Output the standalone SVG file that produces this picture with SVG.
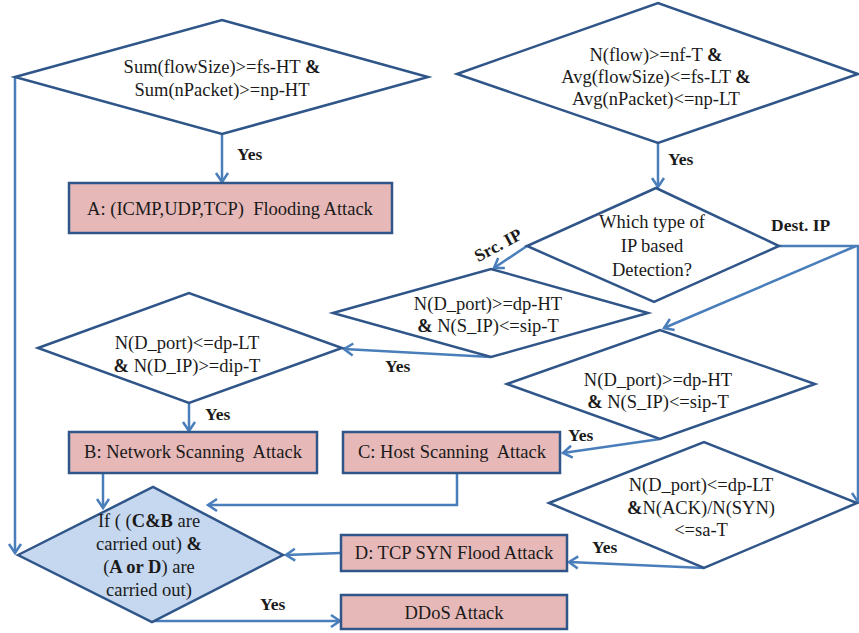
<svg xmlns="http://www.w3.org/2000/svg" width="859" height="633" viewBox="0 0 859 633">
<style>
.shape{fill:#ffffff;stroke:#2f5589;stroke-width:2.5;stroke-linejoin:miter}
.box{fill:#e6b9b8;stroke:#2f5589;stroke-width:2.5}
.blue{fill:#c5d8f0;stroke:#2f5589;stroke-width:2.5}
.t{font-family:"Liberation Serif","Times New Roman",serif;font-size:18.5px;fill:#1a1a1a;text-anchor:middle}
.lbl{font-family:"Liberation Serif","Times New Roman",serif;font-size:17.5px;font-weight:bold;fill:#1a1a1a}
.b{font-weight:bold}
.con{fill:none;stroke:#4a7ebb;stroke-width:2.5}
</style>
<defs>
<marker id="arr" markerUnits="userSpaceOnUse" markerWidth="16" markerHeight="16" refX="12" refY="8" orient="auto">
<path d="M3,2 L12,8 L3,14" fill="none" stroke="#4a7ebb" stroke-width="2.5"/>
</marker>
</defs>
<rect width="859" height="633" fill="#ffffff"/>
<g id="connectors">
<path class="con" d="M15,77 V553" marker-end="url(#arr)"/>
<path class="con" d="M222,134 V182" marker-end="url(#arr)"/>
<path class="con" d="M658,143 V187" marker-end="url(#arr)"/>
<path class="con" d="M527,246 L494,268" marker-end="url(#arr)"/>
<path class="con" d="M779,246 H858 V502" marker-end="url(#arr)"/>
<path class="con" d="M856,246 L664,328" marker-end="url(#arr)"/>
<path class="con" d="M491,357 L344,349" marker-end="url(#arr)"/>
<path class="con" d="M189,403 V431" marker-end="url(#arr)"/>
<path class="con" d="M660,439 L563,453" marker-end="url(#arr)"/>
<path class="con" d="M704,568 L569,562" marker-end="url(#arr)"/>
<path class="con" d="M103,473 V508" marker-end="url(#arr)"/>
<path class="con" d="M457,473 V505 H208" marker-end="url(#arr)"/>
<path class="con" d="M341,553 L286,555" marker-end="url(#arr)"/>
<path class="con" d="M152,621 H340" marker-end="url(#arr)"/>
<text class="lbl" x="237" y="160">Yes</text>
<text class="lbl" x="668" y="165">Yes</text>
<text class="lbl" x="498" y="251" text-anchor="middle" transform="rotate(-28 498 245)">Src. IP</text>
<text class="lbl" x="771" y="231">Dest. IP</text>
<text class="lbl" x="385" y="372">Yes</text>
<text class="lbl" x="205" y="420">Yes</text>
<text class="lbl" x="568" y="441">Yes</text>
<text class="lbl" x="592" y="553">Yes</text>
<text class="lbl" x="260" y="610">Yes</text>
</g>
<g id="d1">
<polygon class="shape" points="15,77 222,20 428,77 222,134"/>
<text class="t" x="222" y="73">Sum(flowSize)&gt;=fs-HT <tspan class="b">&amp;</tspan></text>
<text class="t" x="222" y="96">Sum(nPacket)&gt;=np-HT</text>
</g>
<g id="boxA">
<rect class="box" x="69" y="183" width="323" height="50"/>
<text class="t" x="230" y="215" xml:space="preserve">A: (ICMP,UDP,TCP)  Flooding Attack</text>
</g>
<g id="d2">
<polygon class="shape" points="457,74 658,3 858,74 658,143"/>
<text class="t" x="656" y="61">N(flow)&gt;=nf-T <tspan class="b">&amp;</tspan></text>
<text class="t" x="656" y="83">Avg(flowSize)&lt;=fs-LT <tspan class="b">&amp;</tspan></text>
<text class="t" x="656" y="105">Avg(nPacket)&lt;=np-LT</text>
</g>
<g id="d3">
<polygon class="shape" points="656,188 779,246 654,302 527,246"/>
<text class="t" x="652" y="228">Which type of</text>
<text class="t" x="652" y="252">IP based</text>
<text class="t" x="652" y="276">Detection?</text>
</g>
<g id="d4">
<polygon class="shape" points="333,313 491,269 648,313 491,357"/>
<text class="t" x="488" y="310">N(D_port)&gt;=dp-HT</text>
<text class="t" x="488" y="332"><tspan class="b">&amp;</tspan> N(S_IP)&lt;=sip-T</text>
</g>
<g id="d5">
<polygon class="shape" points="38,348 189,293 342,348 189,403"/>
<text class="t" x="187" y="349">N(D_port)&lt;=dp-LT</text>
<text class="t" x="187" y="372"><tspan class="b">&amp;</tspan> N(D_IP)&gt;=dip-T</text>
</g>
<g id="d5b">
<polygon class="shape" points="507,384 660,330 815,384 660,439"/>
<text class="t" x="658" y="386">N(D_port)&gt;=dp-HT</text>
<text class="t" x="658" y="408"><tspan class="b">&amp;</tspan> N(S_IP)&lt;=sip-T</text>
</g>
<g id="boxB">
<rect class="box" x="69" y="432" width="248" height="41"/>
<text class="t" x="193" y="458" xml:space="preserve">B: Network Scanning  Attack</text>
</g>
<g id="boxC">
<rect class="box" x="343" y="432" width="217" height="41"/>
<text class="t" x="452" y="458" xml:space="preserve">C: Host Scanning  Attack</text>
</g>
<g id="d6">
<polygon class="shape" points="549,503 704,442 857,503 704,568"/>
<text class="t" x="701" y="491">N(D_port)&lt;=dp-LT</text>
<text class="t" x="701" y="514"><tspan class="b">&amp;</tspan>N(ACK)/N(SYN)</text>
<text class="t" x="701" y="536">&lt;=sa-T</text>
</g>
<g id="boxD">
<rect class="box" x="341" y="535" width="226" height="36"/>
<text class="t" x="454" y="559">D: TCP SYN Flood Attack</text>
</g>
<g id="dE">
<polygon class="blue" points="18,555 153,487 283,555 152,622"/>
<text class="t" x="149" y="527">If ( (<tspan class="b">C&amp;B</tspan> are</text>
<text class="t" x="149" y="550">carried out) <tspan class="b">&amp;</tspan></text>
<text class="t" x="149" y="573">(<tspan class="b">A or D</tspan>) are</text>
<text class="t" x="149" y="596">carried out)</text>
</g>
<g id="boxDDoS">
<rect class="box" x="341" y="595" width="226" height="34"/>
<text class="t" x="454" y="619">DDoS Attack</text>
</g>
</svg>
